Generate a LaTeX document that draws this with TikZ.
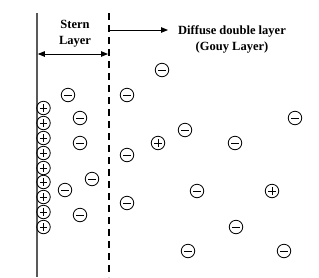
\documentclass[tikz,border=0pt]{standalone}
\usepackage{fontspec}
\setmainfont{Liberation Serif}
\usetikzlibrary{arrows.meta}
\begin{document}
\begin{tikzpicture}[x=1pt,y=-1pt,
  ion/.style={circle,draw=black,line width=0.8pt,minimum size=13.5pt,inner sep=0pt},
  negion/.style={ion,path picture={\draw[line width=0.8pt] ([xshift=-3.6pt]path picture bounding box.center) -- ([xshift=3.6pt]path picture bounding box.center);}},
  posion/.style={ion,path picture={\draw[line width=0.8pt] ([xshift=-3.6pt]path picture bounding box.center) -- ([xshift=3.6pt]path picture bounding box.center) ([yshift=-3.6pt]path picture bounding box.center) -- ([yshift=3.6pt]path picture bounding box.center);}},
  lbl/.style={font=\bfseries\fontsize{12.5}{16}\selectfont,align=center,inner sep=0pt},
  arr/.style={line width=0.9pt,-{Triangle[length=7pt,width=5.5pt]}}
]
\useasboundingbox[fill=white] (0,0) rectangle (319,277);
% walls
\coordinate (wt) at (37,13);
\coordinate (wb) at (37,277);
\coordinate (dt) at (109,13);
\coordinate (db) at (109,277);
\draw[line width=1.3pt,black!65] (wt) -- (wb);
\draw[line width=2pt,dash pattern=on 7pt off 5pt] (dt) -- (db);
% stern label
\node[lbl] (stern) at (75,34) {Stern\\Layer};
\coordinate (sa) at (37.8,54);
\coordinate (sb) at (108,54);
\draw[line width=0.9pt,{Triangle[length=7pt,width=5.5pt]}-{Triangle[length=7pt,width=5.5pt]}] (sa) -- (sb);
% diffuse label
\node[lbl] (diff) at (232,39) {Diffuse double layer\\(Gouy Layer)};
\coordinate (da) at (110,30);
\coordinate (db2) at (168,30);
\draw[arr] (da) -- (db2);
% positive ions on wall
\foreach \i/\y in {1/108,2/123,3/138,4/153,5/168,6/182,7/197,8/212,9/227}
  \node[posion] (p\i) at (43.5,\y) {};
% negative ions in Stern layer
\node[negion] (n1) at (68,95) {};
\node[negion] (n2) at (80,118) {};
\node[negion] (n3) at (80,143) {};
\node[negion] (n4) at (92,179) {};
\node[negion] (n5) at (65,190) {};
\node[negion] (n6) at (80,215) {};
% diffuse layer ions
\node[negion] (n7) at (127,95) {};
\node[negion] (n8) at (127,155) {};
\node[negion] (n9) at (127,203) {};
\node[negion] (n10) at (162,70) {};
\node[negion] (n11) at (185,130) {};
\node[negion] (n12) at (295,118) {};
\node[posion] (q1) at (158,143) {};
\node[negion] (n13) at (235,143) {};
\node[negion] (n14) at (197,191) {};
\node[posion] (q2) at (272,191) {};
\node[negion] (n15) at (236,227) {};
\node[negion] (n16) at (188,251) {};
\node[negion] (n17) at (284,251) {};
\end{tikzpicture}
\end{document}
